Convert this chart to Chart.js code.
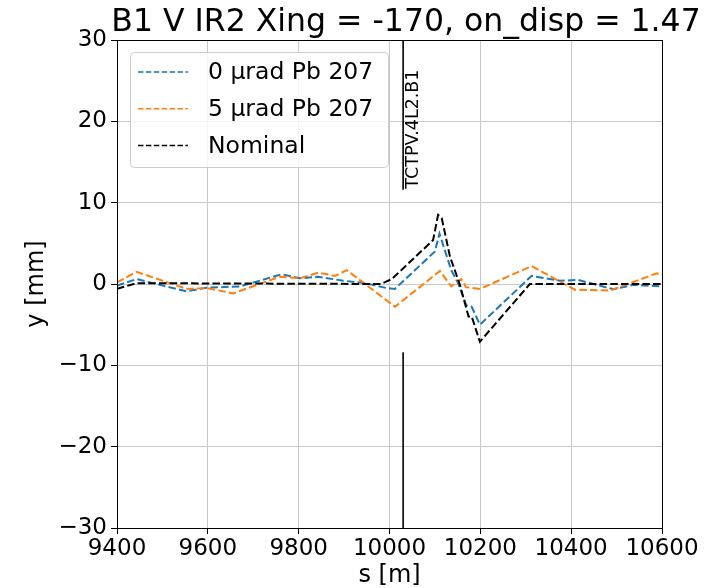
<!DOCTYPE html>
<html>
<head>
<meta charset="utf-8">
<script src="https://cdn.jsdelivr.net/npm/chart.js@4/dist/chart.umd.min.js"></script>
<style>
  body { margin: 0; background: #fff; }
  #wrap { width: 712px; height: 588px; position: relative; }
</style>
</head>
<body>
<div id="wrap"><canvas id="chart"></canvas></div>
<script>
const titleText = 'B1 V IR2 Xing = -170, on_disp = 1.47';

// 0 urad Pb 207
const sBlue = [9400, 9443, 9553, 9597, 9671, 9763, 9803, 9843, 9898, 9942, 9994, 10012, 10100, 10110, 10136, 10151, 10169, 10181, 10199, 10313, 10375, 10415, 10493, 10537, 10600];
const yBlue = [-0.2, 0.6, -0.9, -0.45, -0.3, 1.2, 0.7, 0.9, 0.4, 0.15, -0.5, -0.6, 4.0, 6.2, 1.7, 0.1, -2.6, -2.8, -5.0, 1.0, 0.4, 0.5, -0.65, -0.1, -0.3];

// 5 urad Pb 207
const sOrange = [9400, 9443, 9553, 9597, 9656, 9759, 9803, 9843, 9880, 9906, 10012, 10111, 10136, 10158, 10169, 10199, 10313, 10408, 10486, 10588, 10600];
const yOrange = [0.2, 1.5, -0.6, -0.5, -1.15, 0.9, 0.7, 1.4, 1.0, 1.7, -2.8, 1.6, -0.3, 0.6, -0.4, -0.6, 2.2, -0.7, -0.8, 1.3, 1.1];

// nominal
const sNom = [9400, 9443, 9981, 10005, 10096, 10107, 10115, 10133, 10155, 10174, 10181, 10199, 10309, 10600];
const yNom = [-0.6, 0.1, 0, 0.6, 5.4, 8.5, 8.1, 3.4, -0.1, -4.0, -4.0, -7.1, 0, 0];

// collimator
const collName = 'TCTPV.4L2.B1';
const collS = 10030;
const collUpper = [11.6, 30];
const collLower = [-30, -8.4];

const xTicks = [9400, 9600, 9800, 10000, 10200, 10400, 10600];
const yTicks = [-30, -20, -10, 0, 10, 20, 30];

const FONT = 'DejaVu Sans';

function pts(xs, ys) {
  return xs.map((x, i) => ({ x: x, y: ys[i] }));
}
function minus(v) {
  return String(v).replace('-', '\u2212');
}

const frameAndText = {
  id: 'frameAndText',
  afterDatasetsDraw(chart) {
    const ctx = chart.ctx;
    const a = chart.chartArea;
    const xs = chart.scales.x, ys = chart.scales.y;
    ctx.save();
    // frame
    ctx.strokeStyle = '#000';
    ctx.lineWidth = 1;
    ctx.strokeRect(a.left + 0.5, a.top + 0.5, a.right - a.left, a.bottom - a.top);

    // collimator label
    const px = xs.getPixelForValue(collS);
    const py = ys.getPixelForValue(collUpper[0]);
    ctx.translate(px + 15, py - 1);
    ctx.rotate(-Math.PI / 2);
    ctx.fillStyle = '#000';
    ctx.font = '17.5px "' + FONT + '"';
    ctx.textAlign = 'left';
    ctx.textBaseline = 'alphabetic';
    ctx.fillText(collName, 0, 0);
    ctx.restore();

    // legend
    ctx.save();
    const bx = 130.5, by = 52.5, bw = 258, bh = 115, r = 4;
    ctx.beginPath();
    ctx.moveTo(bx + r, by);
    ctx.arcTo(bx + bw, by, bx + bw, by + bh, r);
    ctx.arcTo(bx + bw, by + bh, bx, by + bh, r);
    ctx.arcTo(bx, by + bh, bx, by, r);
    ctx.arcTo(bx, by, bx + bw, by, r);
    ctx.closePath();
    ctx.fillStyle = 'rgba(255,255,255,0.8)';
    ctx.fill();
    ctx.strokeStyle = '#cccccc';
    ctx.lineWidth = 1;
    ctx.stroke();
    const items = chart.data.datasets.filter(d => d.inLegend);
    items.forEach((d, i) => {
      const ry = 72 + i * 36.7;
      ctx.beginPath();
      ctx.setLineDash([5.5, 2.4]);
      ctx.strokeStyle = d.borderColor;
      ctx.lineWidth = 1.5;
      ctx.moveTo(138, ry);
      ctx.lineTo(188, ry);
      ctx.stroke();
      ctx.setLineDash([]);
      ctx.fillStyle = '#000';
      ctx.font = '23.5px "' + FONT + '"';
      ctx.textAlign = 'left';
      ctx.textBaseline = 'middle';
      ctx.fillText(d.label, 208, ry + 1);
    });

    // title
    ctx.font = '31.5px "' + FONT + '"';
    ctx.textAlign = 'center';
    ctx.textBaseline = 'alphabetic';
    ctx.fillStyle = '#000';
    ctx.fillText(titleText, 406, 31);
    ctx.restore();
  }
};

const lineStyle = { pointRadius: 0, tension: 0, fill: false, borderWidth: 2, borderDash: [7.5, 3.2] };

new Chart(document.getElementById('chart'), {
  type: 'line',
  data: {
    datasets: [
      Object.assign({ label: '0 \u00b5rad Pb 207', data: pts(sBlue, yBlue), borderColor: '#1f77b4', order: 3, inLegend: true }, lineStyle),
      Object.assign({ label: '5 \u00b5rad Pb 207', data: pts(sOrange, yOrange), borderColor: '#ff7f0e', order: 2, inLegend: true }, lineStyle),
      Object.assign({ label: 'Nominal', data: pts(sNom, yNom), borderColor: '#000000', order: 1, inLegend: true }, lineStyle),
      { label: 'coll_up', data: [{ x: collS, y: collUpper[0] }, { x: collS, y: collUpper[1] }], borderColor: '#000', borderWidth: 1.6, pointRadius: 0, order: 0 },
      { label: 'coll_down', data: [{ x: collS, y: collLower[0] }, { x: collS, y: collLower[1] }], borderColor: '#000', borderWidth: 1.6, pointRadius: 0, order: 0 }
    ]
  },
  options: {
    responsive: true,
    maintainAspectRatio: false,
    animation: false,
    devicePixelRatio: 1,
    layout: { padding: { top: 40, right: 50, bottom: 0, left: 0 } },
    plugins: {
      legend: { display: false },
      tooltip: { enabled: false },
      title: { display: false }
    },
    scales: {
      x: {
        type: 'linear',
        min: 9400,
        max: 10600,
        afterBuildTicks: s => { s.ticks = xTicks.map(v => ({ value: v })); },
        afterFit: s => { s.height = 60; },
        ticks: {
          color: '#000',
          font: { family: FONT, size: 23 },
          padding: 1,
          maxRotation: 0,
          autoSkip: false,
          callback: v => minus(v)
        },
        grid: { color: '#c8c8c8', lineWidth: 1, tickColor: '#000', tickLength: 6 },
        border: { color: '#000' },
        title: {
          display: true,
          text: 's [m]',
          color: '#000',
          font: { family: FONT, size: 24, lineHeight: 1 },
          padding: { top: 0, bottom: 0 }
        }
      },
      y: {
        min: -30,
        max: 30,
        afterBuildTicks: s => { s.ticks = yTicks.map(v => ({ value: v })); },
        afterFit: s => { s.width = 117; },
        ticks: {
          color: '#000',
          font: { family: FONT, size: 23 },
          padding: 4,
          autoSkip: false,
          callback: v => minus(v)
        },
        grid: { color: '#c8c8c8', lineWidth: 1, tickColor: '#000', tickLength: 6 },
        border: { color: '#000' },
        title: {
          display: true,
          text: 'y [mm]',
          color: '#000',
          font: { family: FONT, size: 24, lineHeight: 1.2 },
          padding: { top: 22, bottom: 0 }
        }
      }
    }
  },
  plugins: [frameAndText]
});
</script>
</body>
</html>
